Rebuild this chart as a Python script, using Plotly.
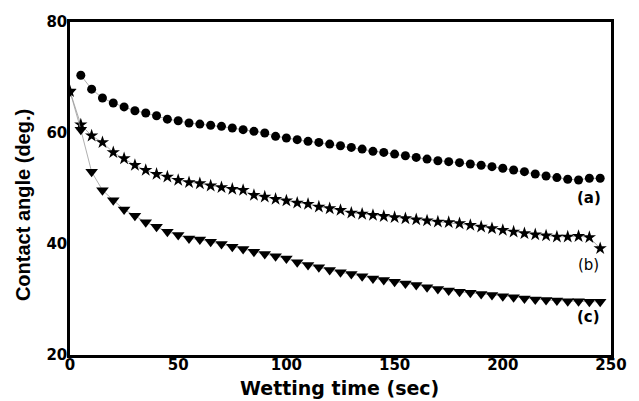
import plotly.graph_objects as go

# ---- data ----
t_a = [5, 10, 15, 20, 25, 30, 35, 40, 45, 50, 55,
       60, 65, 70, 75, 80, 85, 90, 95, 100, 105, 110, 115, 120, 125, 130, 135, 140, 145, 150, 155, 160, 165, 170,
       175, 180, 185, 190, 195, 200, 205, 210, 215, 220, 225, 230, 235, 240, 245]
a_vals = [70.4, 67.9, 66.3, 65.4, 64.7, 64.0, 63.6, 63.1, 62.5, 62.2, 61.8,
          61.6, 61.4, 61.2, 60.9, 60.6, 60.3, 60.0, 59.4, 59.1, 58.8, 58.5, 58.3, 58.0, 57.7, 57.4, 57.1, 56.7, 56.5,
          56.2, 55.9, 55.6, 55.3, 55.0,
          54.84, 54.66, 54.42, 54.18, 53.94, 53.64, 53.34, 53.04, 52.62, 52.26, 51.96, 51.66, 51.53, 51.84, 51.84]

t_bc = [0, 5, 10, 15, 20, 25, 30, 35, 40, 45, 50, 55,
        60, 65, 70, 75, 80, 85, 90, 95, 100, 105, 110, 115, 120, 125, 130, 135, 140, 145, 150, 155, 160, 165, 170,
        175, 180, 185, 190, 195, 200, 205, 210, 215, 220, 225, 230, 235, 240, 245]
b_vals = [67.5, 61.5, 59.5, 58.3, 56.5, 55.4, 54.2, 53.3, 52.6, 52.1, 51.5, 51.1,
          50.9, 50.5, 50.2, 49.9, 49.7, 48.8, 48.5, 48.1, 47.8, 47.4, 47.2, 46.7, 46.4, 46.1, 45.6, 45.4, 45.2, 45.0,
          44.8, 44.6, 44.4, 44.2, 44.0,
          43.9, 43.7, 43.4, 43.1, 42.8, 42.5, 42.2, 41.9, 41.7, 41.5, 41.3, 41.3, 41.4, 41.2, 39.2]
c_vals = [67.5, 60.6, 53.0, 49.7, 47.9, 46.2, 45.1, 43.9, 43.1, 42.2, 41.6, 41.0,
          40.8, 40.4, 40.0, 39.5, 39.1, 38.6, 38.2, 37.8, 37.4, 36.7, 36.2, 35.8, 35.3, 34.9, 34.6, 34.2, 33.8, 33.5,
          33.2, 32.9, 32.6, 32.2, 31.9,
          31.6, 31.4, 31.2, 31.0, 30.8, 30.6, 30.4, 30.2, 30.0, 29.9, 29.8, 29.7, 29.7, 29.6, 29.6]

x_ticks = [0, 50, 100, 150, 200, 250]
y_ticks = [20, 40, 60, 80]
series_labels = ["(a)", "(b)", "(c)"]

line_style = dict(color="#9a9a9a", width=0.8)

fig = go.Figure()
fig.add_trace(go.Scatter(x=t_a, y=a_vals, mode="lines+markers", line=line_style,
                         marker=dict(symbol="circle", size=9, color="black"), showlegend=False))
fig.add_trace(go.Scatter(x=t_bc, y=b_vals, mode="lines+markers", line=line_style,
                         marker=dict(symbol="star", size=10, color="black"), showlegend=False))
fig.add_trace(go.Scatter(x=t_bc, y=c_vals, mode="lines+markers", line=line_style,
                         marker=dict(symbol="triangle-down", size=11, color="black"), showlegend=False))

tick_font = dict(family="DejaVu Sans", size=15, color="black", weight="bold")

fig.update_xaxes(range=[0, 250], tickvals=x_ticks, ticktext=[str(v) for v in x_ticks],
                 showgrid=False, zeroline=False, ticks="", ticklen=0, ticklabelstandoff=-6,
                 showline=True, linecolor="black",
                 linewidth=2.5, mirror=True, tickfont=tick_font)
fig.update_yaxes(range=[20, 80], tickvals=y_ticks, ticktext=[str(v) for v in y_ticks],
                 showgrid=False, zeroline=False, ticks="", ticklen=0, ticklabelstandoff=-3,
                 showline=True, linecolor="black",
                 linewidth=2.5, mirror=True, tickfont=tick_font)

annos = [
    dict(text="Wetting time (sec)", x=0.4986, y=-0.099, xref="paper", yref="paper",
         showarrow=False, xanchor="center", yanchor="middle",
         font=dict(family="DejaVu Sans", size=19, color="black", weight="bold")),
    dict(text="Contact angle (deg.)", x=-0.0864, y=0.451, xref="paper", yref="paper",
         showarrow=False, xanchor="center", yanchor="middle", textangle=-90,
         font=dict(family="Liberation Sans", size=20, color="black", weight="bold")),
]
label_pos = [0.472, 0.2705, 0.114]
label_weight = ["bold", "normal", "bold"]
for lab, yp, w in zip(series_labels, label_pos, label_weight):
    annos.append(dict(text=lab, x=0.959, y=yp, xref="paper", yref="paper", showarrow=False,
                      xanchor="center", yanchor="middle",
                      font=dict(family="DejaVu Sans", size=15, color="black", weight=w)))

fig.update_layout(width=639, height=401, margin=dict(l=70, r=19, t=22, b=46),
                  plot_bgcolor="white", paper_bgcolor="white", annotations=annos)

fig.write_html("out.html")
